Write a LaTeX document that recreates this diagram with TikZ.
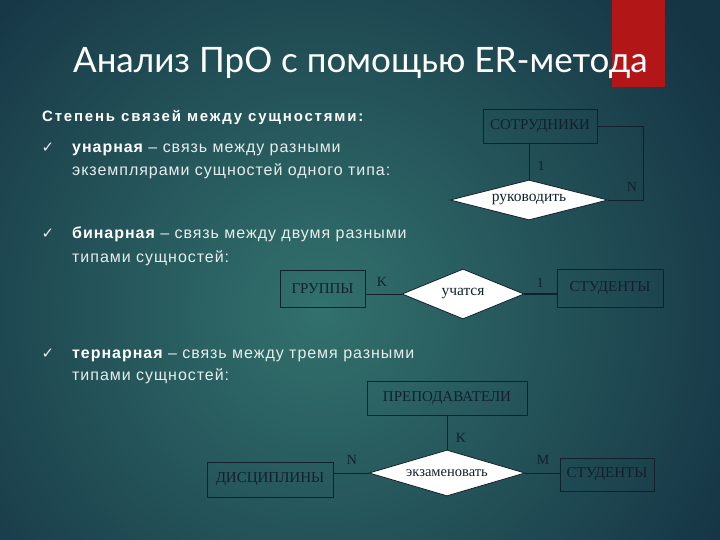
\documentclass[tikz,border=0pt]{standalone}
\usepackage{fontspec}
\setmainfont{Liberation Sans}
\newfontfamily\titlefont{Lato}
\newfontfamily\bodyfont[LetterSpace=6]{Liberation Sans}
\newfontfamily\headfont[LetterSpace=12]{Liberation Sans}
\newfontfamily\erfont{Liberation Serif}
\newfontfamily\tickfont{DejaVu Sans}
\usetikzlibrary{shapes.geometric}
\definecolor{bgin}{RGB}{50,113,109}
\definecolor{bgout}{RGB}{21,52,68}
\definecolor{slidered}{RGB}{178,22,22}
\definecolor{ink}{RGB}{18,32,46}
\definecolor{pale}{RGB}{232,236,236}

\begin{document}
\begin{tikzpicture}[
    x=1pt, y=-1pt,
    entity/.style={draw=ink, line width=0.9pt, inner sep=0pt, text=ink,
        font=\erfont\fontsize{15}{15}\selectfont},
    relation/.style={diamond, draw=ink, line width=0.8pt, fill=white, inner sep=0pt,
        text=ink, font=\erfont\fontsize{15.5}{15.5}\selectfont},
    card/.style={text=ink, inner sep=0pt, font=\erfont\fontsize{14}{14}\selectfont},
    line/.style={draw=ink, line width=0.9pt},
    txt/.style={anchor=base west, inner sep=0pt, text=pale, font=\bodyfont\fontsize{16}{16}\selectfont}
]
    % --- background ---
    \fill[bgout] (0,0) rectangle (720,540);
    \begin{scope}
        \clip (0,0) rectangle (720,540);
        \shade[inner color=bgin, outer color=bgout] (320,310) circle (470);
    \end{scope}
    \fill[slidered] (612,0) rectangle (665,87);

    % --- title ---
    \node[anchor=base west, inner sep=0pt, text=white,
        font=\titlefont\fontsize{35}{35}\selectfont] (title) at (73,73)
        {Анализ ПрО с помощью ER-метода};

    % --- left text ---
    \node[txt, text=white, font=\headfont\bfseries\fontsize{15}{15}\selectfont] (head) at (42,122)
        {Степень связей между сущностями:};
    \foreach \y/\n in {153/ck1, 238/ck2, 358/ck3} {
        \node[text=pale, inner sep=0pt, font=\tickfont\fontsize{15}{15}\selectfont,
            anchor=base] (\n) at (48,\y) {✓};
    }
    \node[txt] (t1) at (72,153) {\textbf{\color{white}унарная} – связь между разными};
    \node[txt] (t2) at (72,176) {экземплярами сущностей одного типа:};
    \node[txt] (t3) at (72,238) {\textbf{\color{white}бинарная} – связь между двумя разными};
    \node[txt] (t4) at (72,262) {типами сущностей:};
    \node[txt] (t5) at (72,358) {\textbf{\color{white}тернарная} – связь между тремя разными};
    \node[txt] (t6) at (72,380) {типами сущностей:};

    % --- unary ---
    \node[entity, minimum width=114, minimum height=34] (sotr) at (540,126) {СОТРУДНИКИ};
    \node[relation, aspect=3.95, minimum width=158, minimum height=40] (ruk) at (529,200) {руководить};
    \draw[line] (ruk.north |- sotr.south) -- (ruk.north);
    \draw[line] (sotr.east) -- ++(46,0) |- (ruk.east);
    \node[card] (u1) at (541,166) {1};
    \node[card] (un) at (632,187) {N};

    % --- binary ---
    \node[entity, minimum width=85, minimum height=37] (grp) at (322.5,288.5) {ГРУППЫ};
    \node[relation, aspect=2.44, minimum width=122, minimum height=50] (uch) at (463,294) {учатся};
    \node[entity, minimum width=106, minimum height=38] (stud) at (610,288) {СТУДЕНТЫ};
    \draw[line] (uch.west -| grp.east) -- (uch.west);
    \draw[draw=ink, line width=2.6pt] (uch.east) -- (uch.east -| stud.west);
    \node[card] (bk) at (382,282) {K};
    \node[card] (b1) at (540,283) {1};

    % --- ternary ---
    \node[entity, minimum width=160, minimum height=34] (prep) at (447,398) {ПРЕПОДАВАТЕЛИ};
    \node[relation, aspect=3.4, minimum width=156, minimum height=46,
        font=\erfont\fontsize{14.5}{14.5}\selectfont] (exam) at (447,473) {экзаменовать};
    \node[entity, minimum width=126, minimum height=35] (disc) at (270,479.5) {ДИСЦИПЛИНЫ};
    \node[entity, minimum width=94, minimum height=33] (stud2) at (607,474.5) {СТУДЕНТЫ};
    \draw[line] (prep.south) -- (exam.north);
    \draw[line] (exam.west -| disc.east) -- (exam.west);
    \draw[line] (exam.east) -- (exam.east -| stud2.west);
    \node[card] (tk) at (461,438) {K};
    \node[card] (tn) at (352,460) {N};
    \node[card] (tm) at (543,460) {M};
\end{tikzpicture}
\end{document}
